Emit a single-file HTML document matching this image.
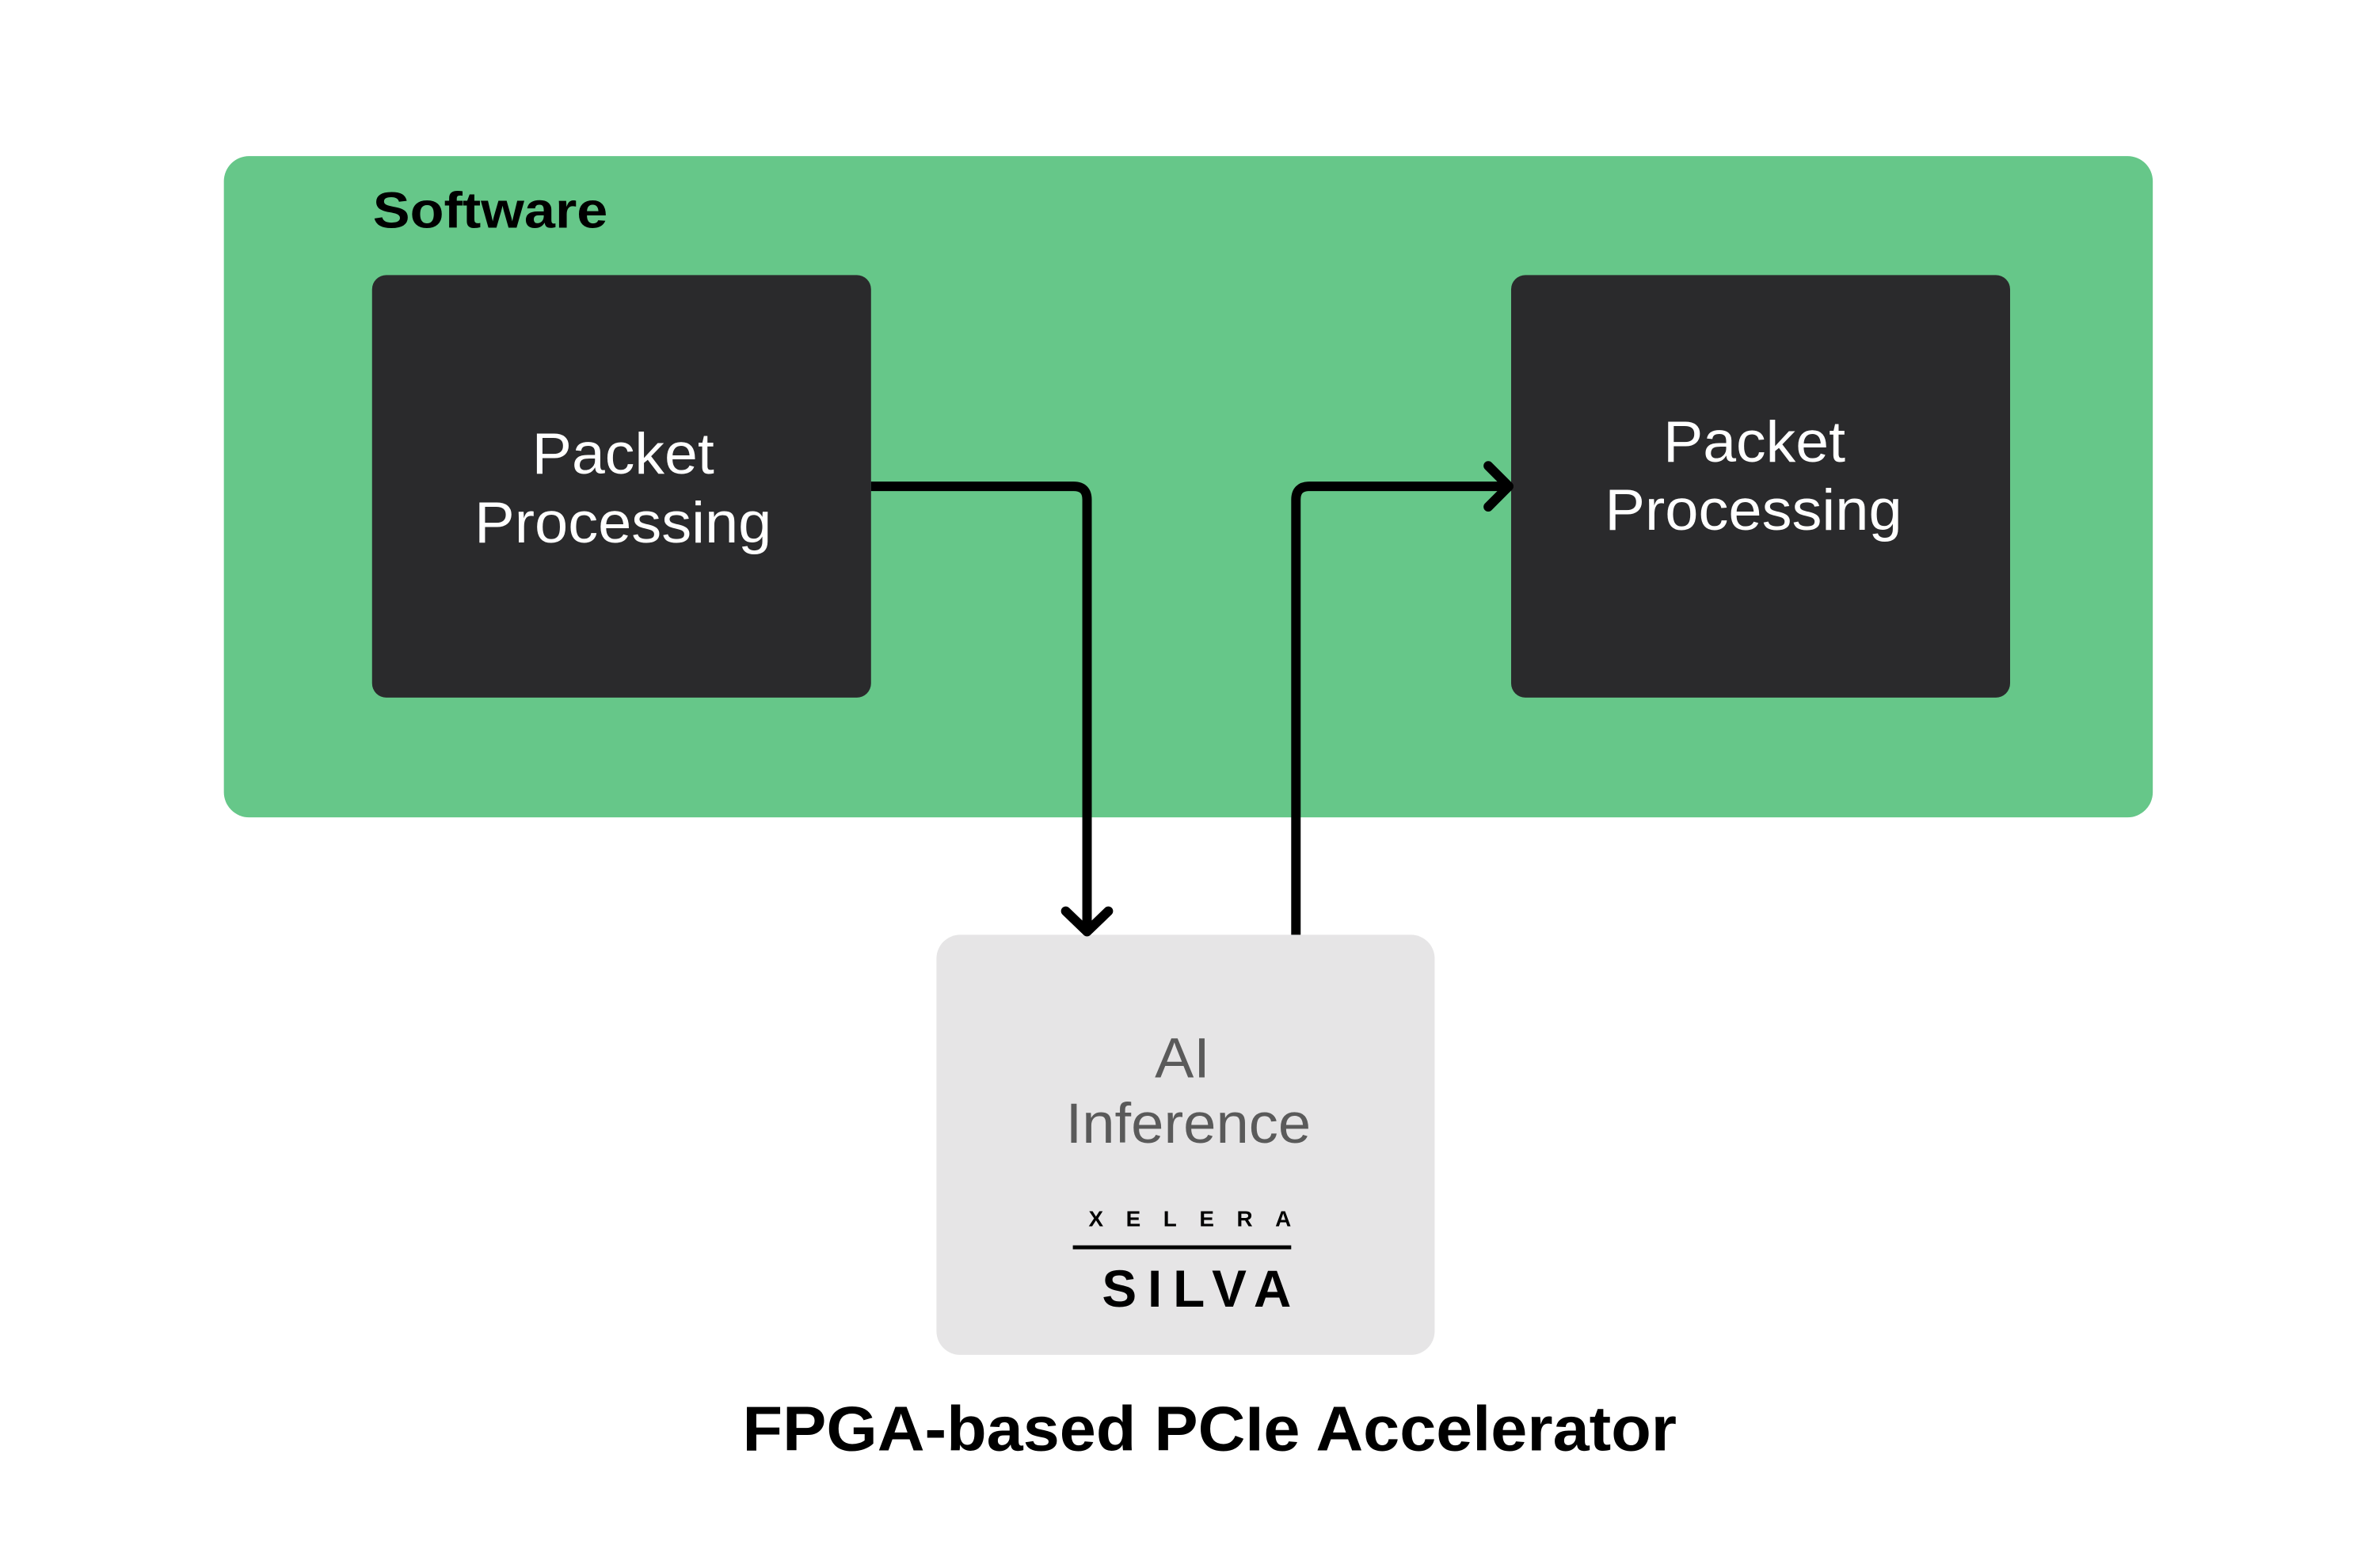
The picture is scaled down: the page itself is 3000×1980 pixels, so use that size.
<!DOCTYPE html>
<html><head><meta charset="utf-8"><style>html,body{margin:0;padding:0;background:#fff}svg{display:block}</style></head>
<body>
<svg width="3000" height="1980" viewBox="0 0 3000 1980" xmlns="http://www.w3.org/2000/svg" font-family="Liberation Sans, sans-serif">
<rect width="3000" height="1980" fill="#fff"/>
<g transform="scale(0.9953)">
<rect x="284" y="198" width="2447" height="839" rx="32" fill="#66c789"/>
<text x="473" y="289" font-size="64" font-weight="bold" fill="#000" textLength="298" lengthAdjust="spacingAndGlyphs">Software</text>
<rect x="472" y="349" width="633" height="536" rx="18" fill="#2a2a2c"/>
<rect x="1917" y="349" width="633" height="536" rx="18" fill="#2a2a2c"/>
<g fill="#fff" font-size="74">
<text x="675" y="601" textLength="231" lengthAdjust="spacingAndGlyphs">Packet</text>
<text x="602" y="688" textLength="377" lengthAdjust="spacingAndGlyphs">Processing</text>
<text x="2110" y="586" textLength="231" lengthAdjust="spacingAndGlyphs">Packet</text>
<text x="2036" y="672" textLength="377" lengthAdjust="spacingAndGlyphs">Processing</text>
</g>
<rect x="1188" y="1186" width="632" height="533" rx="30" fill="#e6e5e6"/>
<g fill="#5a5a5a" font-size="72">
<text x="1465" y="1367" textLength="70" lengthAdjust="spacingAndGlyphs">AI</text>
<text x="1352" y="1450" textLength="311" lengthAdjust="spacingAndGlyphs">Inference</text>
</g>
<text x="1381" y="1556" font-size="28" font-weight="bold" fill="#000" textLength="257" lengthAdjust="spacing">XELERA</text>
<rect x="1361" y="1580" width="277" height="5" fill="#000"/>
<text x="1398" y="1658" font-size="66" font-weight="bold" fill="#000" textLength="240" lengthAdjust="spacing">SILVA</text>
<g fill="none" stroke="#000" stroke-width="12" stroke-linejoin="round">
<path d="M1105 617 H1362 Q1379 617 1379 634 V1180"/>
<path d="M1352 1156 L1379 1182 L1406 1156" stroke-linecap="round"/>
<path d="M1644 1186 V634 Q1644 617 1661 617 H1912"/>
<path d="M1888 591 L1914 617 L1888 643" stroke-linecap="round"/>
</g>
<text x="942" y="1840" font-size="80" font-weight="bold" fill="#000" textLength="1185" lengthAdjust="spacingAndGlyphs">FPGA-based PCIe Accelerator</text>
</g>
</svg>
</body></html>
